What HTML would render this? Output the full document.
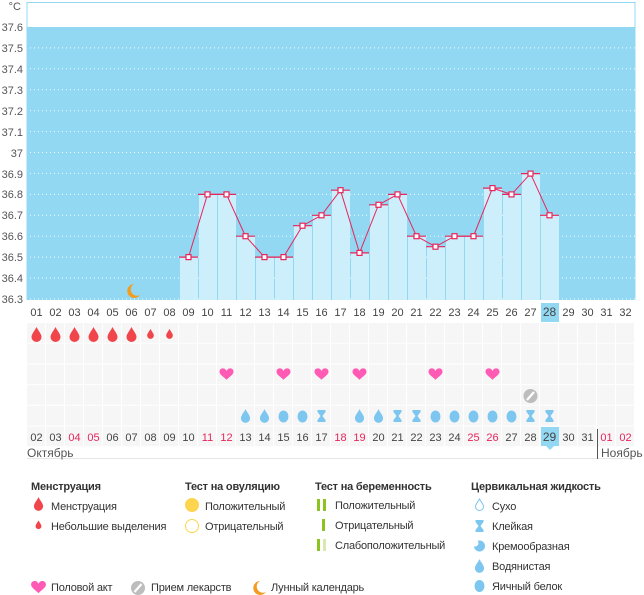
<!DOCTYPE html>
<html><head><meta charset="utf-8"><style>
html,body{margin:0;padding:0;background:#fff;}
svg{display:block;font-family:"Liberation Sans","DejaVu Sans",sans-serif;}
</style></head><body>
<svg width="644" height="595" viewBox="0 0 644 595" xmlns="http://www.w3.org/2000/svg">
<defs>
<pattern id="cells" x="27" y="323" width="19" height="20.7" patternUnits="userSpaceOnUse">
<rect x="0" y="0" width="18" height="19.7" fill="#f6f6f6"/>
</pattern>
<symbol id="drop" viewBox="-6 -8 12 16" overflow="visible"><path d="M0,-7 C2,-3 5,0 5,3 A5,5 0 0 1 -5,3 C-5,0 -2,-3 0,-7Z"/></symbol>
<symbol id="heart" viewBox="-8 -7 16 14" overflow="visible"><path d="M0,6 C-3,3 -8,0 -8,-3 C-8,-6 -6,-7 -4,-7 C-2,-7 -1,-6 0,-4 C1,-6 2,-7 4,-7 C6,-7 8,-6 8,-3 C8,0 3,3 0,6Z"/></symbol>
</defs>

<rect x="27" y="2.5" width="608" height="297" fill="#fff" stroke="#92d8f3" stroke-width="1"/>
<rect x="27" y="27" width="608" height="273" fill="#92d8f3"/>
<g stroke="#fff" stroke-width="1" stroke-dasharray="1,3" opacity="0.9">
<line x1="30" x2="635" y1="47.9" y2="47.9"/><line x1="30" x2="635" y1="68.8" y2="68.8"/>
<line x1="30" x2="635" y1="89.8" y2="89.8"/><line x1="30" x2="635" y1="110.7" y2="110.7"/>
<line x1="30" x2="635" y1="131.6" y2="131.6"/><line x1="30" x2="635" y1="152.5" y2="152.5"/>
<line x1="30" x2="635" y1="173.4" y2="173.4"/><line x1="30" x2="635" y1="194.4" y2="194.4"/>
<line x1="30" x2="635" y1="215.3" y2="215.3"/><line x1="30" x2="635" y1="236.2" y2="236.2"/>
<line x1="30" x2="635" y1="257.1" y2="257.1"/><line x1="30" x2="635" y1="278" y2="278"/>
<line x1="30" x2="635" y1="299" y2="299"/>
</g>
<g fill="#cdeefb">
<rect x="180" y="257.1" width="18" height="42.9"/>
<rect x="199" y="194.4" width="18" height="105.6"/>
<rect x="218" y="194.4" width="18" height="105.6"/>
<rect x="237" y="236.2" width="18" height="63.8"/>
<rect x="256" y="257.1" width="18" height="42.9"/>
<rect x="275" y="257.1" width="18" height="42.9"/>
<rect x="294" y="225.7" width="18" height="74.3"/>
<rect x="313" y="215.3" width="18" height="84.7"/>
<rect x="332" y="190.2" width="18" height="109.8"/>
<rect x="351" y="252.9" width="18" height="47.1"/>
<rect x="370" y="204.8" width="18" height="95.2"/>
<rect x="389" y="194.4" width="18" height="105.6"/>
<rect x="408" y="236.2" width="18" height="63.8"/>
<rect x="427" y="246.7" width="18" height="53.3"/>
<rect x="446" y="236.2" width="18" height="63.8"/>
<rect x="465" y="236.2" width="18" height="63.8"/>
<rect x="484" y="188.1" width="18" height="111.9"/>
<rect x="503" y="194.4" width="18" height="105.6"/>
<rect x="522" y="173.6" width="18" height="126.4"/>
<rect x="541" y="215.3" width="18" height="84.7"/>
</g>
<g stroke="#e8245a" stroke-width="1.2">
<line x1="179" x2="198" y1="257.1" y2="257.1"/><line x1="198" x2="217" y1="194.4" y2="194.4"/>
<line x1="217" x2="236" y1="194.4" y2="194.4"/><line x1="236" x2="255" y1="236.2" y2="236.2"/>
<line x1="255" x2="274" y1="257.1" y2="257.1"/><line x1="274" x2="293" y1="257.1" y2="257.1"/>
<line x1="293" x2="312" y1="225.7" y2="225.7"/><line x1="312" x2="331" y1="215.3" y2="215.3"/>
<line x1="331" x2="350" y1="190.2" y2="190.2"/><line x1="350" x2="369" y1="252.9" y2="252.9"/>
<line x1="369" x2="388" y1="204.8" y2="204.8"/><line x1="388" x2="407" y1="194.4" y2="194.4"/>
<line x1="407" x2="426" y1="236.2" y2="236.2"/><line x1="426" x2="445" y1="246.7" y2="246.7"/>
<line x1="445" x2="464" y1="236.2" y2="236.2"/><line x1="464" x2="483" y1="236.2" y2="236.2"/>
<line x1="483" x2="502" y1="188.1" y2="188.1"/><line x1="502" x2="521" y1="194.4" y2="194.4"/>
<line x1="521" x2="540" y1="173.6" y2="173.6"/><line x1="540" x2="559" y1="215.3" y2="215.3"/>
</g>
<polyline fill="none" stroke="#e8245a" stroke-width="1" points="188.5,257.1 207.5,194.4 226.5,194.4 245.5,236.2 264.5,257.1 283.5,257.1 302.5,225.7 321.5,215.3 340.5,190.2 359.5,252.9 378.5,204.8 397.5,194.4 416.5,236.2 435.5,246.7 454.5,236.2 473.5,236.2 492.5,188.1 511.5,194.4 530.5,173.6 549.5,215.3"/>
<g fill="#fff" stroke="#e8245a" stroke-width="1.2">
<rect x="186" y="254.6" width="5" height="5"/><rect x="205" y="191.9" width="5" height="5"/>
<rect x="224" y="191.9" width="5" height="5"/><rect x="243" y="233.7" width="5" height="5"/>
<rect x="262" y="254.6" width="5" height="5"/><rect x="281" y="254.6" width="5" height="5"/>
<rect x="300" y="223.2" width="5" height="5"/><rect x="319" y="212.8" width="5" height="5"/>
<rect x="338" y="187.7" width="5" height="5"/><rect x="357" y="250.4" width="5" height="5"/>
<rect x="376" y="202.3" width="5" height="5"/><rect x="395" y="191.9" width="5" height="5"/>
<rect x="414" y="233.7" width="5" height="5"/><rect x="433" y="244.2" width="5" height="5"/>
<rect x="452" y="233.7" width="5" height="5"/><rect x="471" y="233.7" width="5" height="5"/>
<rect x="490" y="185.6" width="5" height="5"/><rect x="509" y="191.9" width="5" height="5"/>
<rect x="528" y="171.1" width="5" height="5"/><rect x="547" y="212.8" width="5" height="5"/>
</g>
<path d="M134,284 A7,7 0 1 0 140,295 A6,6 0 0 1 134,284Z" fill="#f39c1f"/>

<g font-size="11" fill="#555" text-anchor="end">
<text x="21" y="10">°C</text>
<text x="23" y="31">37.6</text><text x="23" y="52">37.5</text><text x="23" y="73">37.4</text>
<text x="23" y="94">37.3</text><text x="23" y="115">37.2</text><text x="23" y="136">37.1</text>
<text x="23" y="157">37</text><text x="23" y="178">36.9</text><text x="23" y="198">36.8</text>
<text x="23" y="219">36.7</text><text x="23" y="240">36.6</text><text x="23" y="261">36.5</text>
<text x="23" y="282">36.4</text><text x="23" y="303">36.3</text>
</g>

<rect x="27" y="323" width="608" height="124" fill="url(#cells)"/>
<rect x="541" y="303" width="18" height="19" fill="#92d8f3"/>
<rect x="541" y="427" width="18" height="19" fill="#92d8f3"/>
<path d="M546,446 L550,450 L554,446Z" fill="#92d8f3"/>

<g font-size="11" fill="#444" text-anchor="middle">
<text x="36.5" y="316">01</text><text x="55.5" y="316">02</text><text x="74.5" y="316">03</text><text x="93.5" y="316">04</text>
<text x="112.5" y="316">05</text><text x="131.5" y="316">06</text><text x="150.5" y="316">07</text><text x="169.5" y="316">08</text>
<text x="188.5" y="316">09</text><text x="207.5" y="316">10</text><text x="226.5" y="316">11</text><text x="245.5" y="316">12</text>
<text x="264.5" y="316">13</text><text x="283.5" y="316">14</text><text x="302.5" y="316">15</text><text x="321.5" y="316">16</text>
<text x="340.5" y="316">17</text><text x="359.5" y="316">18</text><text x="378.5" y="316">19</text><text x="397.5" y="316">20</text>
<text x="416.5" y="316">21</text><text x="435.5" y="316">22</text><text x="454.5" y="316">23</text><text x="473.5" y="316">24</text>
<text x="492.5" y="316">25</text><text x="511.5" y="316">26</text><text x="530.5" y="316">27</text><text x="549.5" y="316" font-size="12">28</text>
<text x="568.5" y="316">29</text><text x="587.5" y="316">30</text><text x="606.5" y="316">31</text><text x="625.5" y="316">32</text>
</g>
<g font-size="11" fill="#444" text-anchor="middle">
<text x="36.5" y="441">02</text><text x="55.5" y="441">03</text><text x="74.5" y="441" fill="#e8245a">04</text><text x="93.5" y="441" fill="#e8245a">05</text>
<text x="112.5" y="441">06</text><text x="131.5" y="441">07</text><text x="150.5" y="441">08</text><text x="169.5" y="441">09</text>
<text x="188.5" y="441">10</text><text x="207.5" y="441" fill="#e8245a">11</text><text x="226.5" y="441" fill="#e8245a">12</text><text x="245.5" y="441">13</text>
<text x="264.5" y="441">14</text><text x="283.5" y="441">15</text><text x="302.5" y="441">16</text><text x="321.5" y="441">17</text>
<text x="340.5" y="441" fill="#e8245a">18</text><text x="359.5" y="441" fill="#e8245a">19</text><text x="378.5" y="441">20</text><text x="397.5" y="441">21</text>
<text x="416.5" y="441">22</text><text x="435.5" y="441">23</text><text x="454.5" y="441">24</text><text x="473.5" y="441" fill="#e8245a">25</text>
<text x="492.5" y="441" fill="#e8245a">26</text><text x="511.5" y="441">27</text><text x="530.5" y="441">28</text><text x="549.5" y="441" font-size="12">29</text>
<text x="568.5" y="441">30</text><text x="587.5" y="441">31</text><text x="606.5" y="441" fill="#e8245a">01</text><text x="625.5" y="441" fill="#e8245a">02</text>
</g>
<line x1="27" x2="635" y1="458.5" y2="458.5" stroke="#e6e6e6"/>
<line x1="597.5" x2="597.5" y1="429" y2="459" stroke="#555"/>
<text x="27" y="457" font-size="12" fill="#555">Октябрь</text>
<text x="601" y="457" font-size="12" fill="#555">Ноябрь</text>

<g fill="#f0454a">
<use href="#drop" x="30.5" y="326" width="12" height="16"/><use href="#drop" x="49.5" y="326" width="12" height="16"/>
<use href="#drop" x="68.5" y="326" width="12" height="16"/><use href="#drop" x="87.5" y="326" width="12" height="16"/>
<use href="#drop" x="106.5" y="326" width="12" height="16"/><use href="#drop" x="125.5" y="326" width="12" height="16"/>
<use href="#drop" x="146.5" y="328" width="8" height="11"/><use href="#drop" x="165.5" y="328" width="8" height="11"/>
</g>
<g fill="#ff5ab4">
<use href="#heart" x="219.5" y="368" width="14" height="13"/><use href="#heart" x="276.5" y="368" width="14" height="13"/>
<use href="#heart" x="314.5" y="368" width="14" height="13"/><use href="#heart" x="352.5" y="368" width="14" height="13"/>
<use href="#heart" x="428.5" y="368" width="14" height="13"/><use href="#heart" x="485.5" y="368" width="14" height="13"/>
</g>
<circle cx="530.5" cy="396" r="7" fill="#bdbdbd"/><line x1="527" y1="400" x2="534" y2="392" stroke="#fff" stroke-width="2.2"/>
<g fill="#7cc6ef">
<use href="#drop" x="240" y="408" width="11" height="15"/><use href="#drop" x="259" y="408" width="11" height="15"/>
<use href="#drop" x="354" y="408" width="11" height="15"/><use href="#drop" x="373" y="408" width="11" height="15"/>
<ellipse cx="283.5" cy="416.5" rx="5" ry="6"/><ellipse cx="302.5" cy="416.5" rx="5" ry="6"/>
<ellipse cx="435.5" cy="416.5" rx="5" ry="6"/><ellipse cx="454.5" cy="416.5" rx="5" ry="6"/>
<ellipse cx="473.5" cy="416.5" rx="5" ry="6"/><ellipse cx="492.5" cy="416.5" rx="5" ry="6"/>
<ellipse cx="511.5" cy="416.5" rx="5" ry="6"/>
<path d="M317.5,410h8v2l-3,4 3,4v2h-8v-2l3,-4 -3,-4z"/>
<path d="M412.5,410h8v2l-3,4 3,4v2h-8v-2l3,-4 -3,-4z"/>
<path d="M393.5,410h8v2l-3,4 3,4v2h-8v-2l3,-4 -3,-4z"/>
<path d="M526.5,410h8v2l-3,4 3,4v2h-8v-2l3,-4 -3,-4z"/>
<path d="M545.5,410h8v2l-3,4 3,4v2h-8v-2l3,-4 -3,-4z"/>
</g>

<g font-size="11" fill="#333" letter-spacing="-0.2">
<text x="31" y="490" font-weight="bold">Менструация</text>
<text x="51" y="510">Менструация</text>
<text x="51" y="530">Небольшие выделения</text>
<text x="185" y="490" font-weight="bold">Тест на овуляцию</text>
<text x="205" y="510">Положительный</text>
<text x="205" y="530">Отрицательный</text>
<text x="315" y="490" font-weight="bold">Тест на беременность</text>
<text x="335" y="509">Положительный</text>
<text x="335" y="529">Отрицательный</text>
<text x="335" y="549">Слабоположительный</text>
<text x="471" y="490" font-weight="bold">Цервикальная жидкость</text>
<text x="492" y="510">Сухо</text>
<text x="492" y="530">Клейкая</text>
<text x="492" y="550">Кремообразная</text>
<text x="492" y="570">Водянистая</text>
<text x="492" y="590">Яичный белок</text>
<text x="51" y="591">Половой акт</text>
<text x="151" y="591">Прием лекарств</text>
<text x="271" y="591">Лунный календарь</text>
</g>
<g fill="#f0454a">
<use href="#drop" x="33" y="496" width="11" height="15"/>
<use href="#drop" x="35" y="519" width="7" height="11"/>
</g>
<circle cx="192" cy="505" r="7" fill="#fdd54e"/>
<circle cx="192" cy="526" r="6.5" fill="#fff" stroke="#fdd54e" stroke-width="1"/>
<g fill="#8dc21f">
<rect x="317" y="499" width="3" height="12"/><rect x="323" y="499" width="3" height="12"/>
<rect x="322" y="519" width="3" height="12"/>
<rect x="317" y="539" width="3" height="12"/>
</g>
<rect x="323" y="539" width="3" height="12" fill="#d6eab0"/>
<g fill="#7cc6ef">
<path d="M479.5,499 C481,502 483.5,504 483.5,506.5 A4,4 0 0 1 475.5,506.5 C475.5,504 478,502 479.5,499Z" fill="none" stroke="#7cc6ef"/>
<path d="M475.5,520h8v2l-3,4 3,4v2h-8v-2l3,-4 -3,-4z"/>
<circle cx="479.5" cy="546" r="5.5"/>
<circle cx="475" cy="543" r="3.5" fill="#fff"/>
<use href="#drop" x="474" y="558" width="11" height="15"/>
<ellipse cx="479.5" cy="586" rx="5" ry="6"/>
</g>
<use href="#heart" x="31" y="581" width="15" height="13" fill="#ff5ab4"/>
<circle cx="138" cy="588" r="7" fill="#bdbdbd"/><line x1="134.5" y1="592" x2="141.5" y2="584" stroke="#fff" stroke-width="2.2"/>
<path d="M134,284 A7,7 0 1 0 140,295 A6,6 0 0 1 134,284Z" fill="#f39c1f" transform="translate(126,297)"/>
</svg>
</body></html>
